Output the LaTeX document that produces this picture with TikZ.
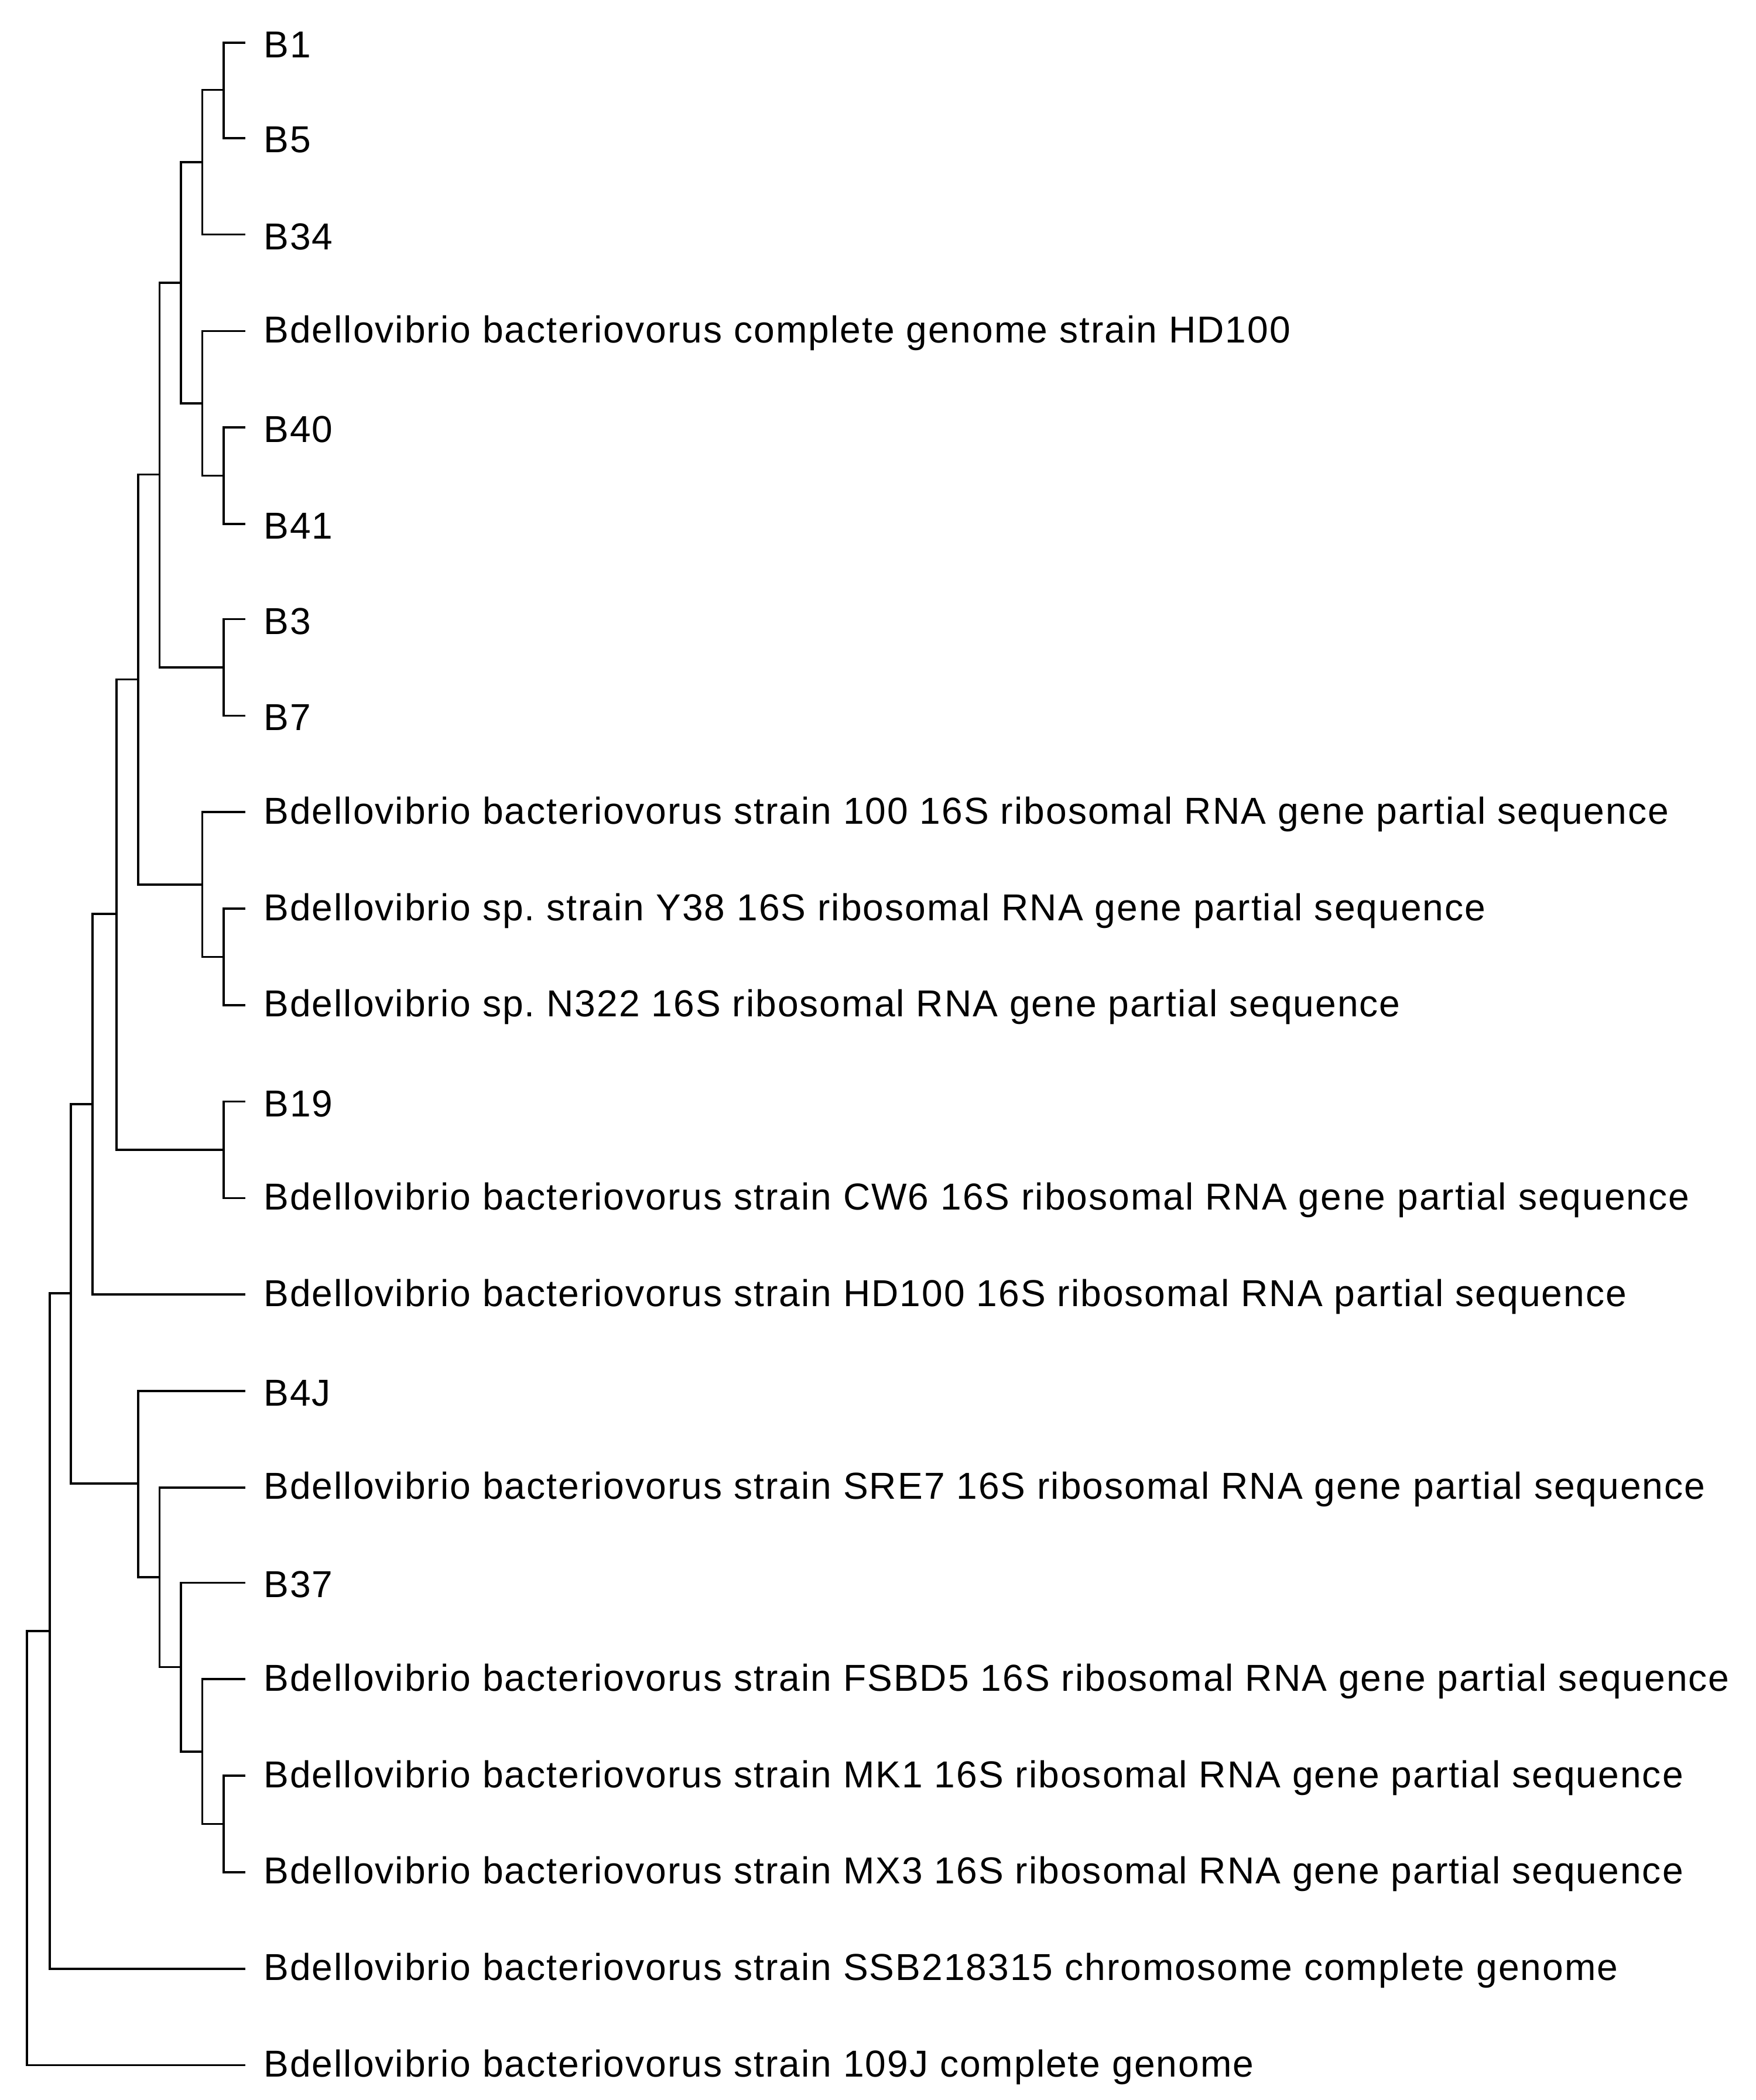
\documentclass[tikz,border=0pt]{standalone}
\usepackage{fontspec}
\setmainfont{Liberation Sans}[LetterSpace=3.2]
\frenchspacing
\begin{document}
\begin{tikzpicture}[x=1pt,y=-1pt,line width=1.6pt,
 leaf/.style={anchor=west,inner sep=0pt,yshift=-1.5pt,font=\fontsize{28}{32}\selectfont},
 br/.style={draw=black}]
\useasboundingbox (0,0) rectangle (1310,1567);
% leaves
\foreach \n/\y/\t in {l1/32/B1,l2/103/B5,l3/175/B34,l4/247/Bdellovibrio bacteriovorus complete genome strain HD100,
 l5/319/B40,l6/391/B41,l7/462/B3,l8/534/B7,
 l9/606/Bdellovibrio bacteriovorus strain 100 16S ribosomal RNA gene partial sequence,
 l10/678/Bdellovibrio sp. strain Y38 16S ribosomal RNA gene partial sequence,
 l11/750/Bdellovibrio sp. N322 16S ribosomal RNA gene partial sequence,
 l12/822/B19,
 l13/894/Bdellovibrio bacteriovorus strain CW6 16S ribosomal RNA gene partial sequence,
 l14/966/Bdellovibrio bacteriovorus strain HD100 16S ribosomal RNA partial sequence,
 l15/1038/B4J,
 l16/1110/Bdellovibrio bacteriovorus strain SRE7 16S ribosomal RNA gene partial sequence,
 l17/1181/B37,
 l18/1253/Bdellovibrio bacteriovorus strain FSBD5 16S ribosomal RNA gene partial sequence,
 l19/1325/Bdellovibrio bacteriovorus strain MK1 16S ribosomal RNA gene partial sequence,
 l20/1397/Bdellovibrio bacteriovorus strain MX3 16S ribosomal RNA gene partial sequence,
 l21/1469/Bdellovibrio bacteriovorus strain SSB218315 chromosome complete genome,
 l22/1541/Bdellovibrio bacteriovorus strain 109J complete genome}
 {\coordinate (\n) at (183,\y); \node[leaf] (t\n) at (196,\y) {\t};}
% internal nodes
\coordinate (a) at (167,67);
\coordinate (b) at (151,121);
\coordinate (c) at (167,355);
\coordinate (d) at (151,301);
\coordinate (e) at (135,211);
\coordinate (f) at (167,498);
\coordinate (g) at (119,354);
\coordinate (h) at (167,714);
\coordinate (i) at (151,660);
\coordinate (j) at (103,507);
\coordinate (k) at (167,858);
\coordinate (m) at (87,682);
\coordinate (n) at (69,824);
\coordinate (o) at (167,1361);
\coordinate (p) at (151,1307);
\coordinate (q) at (135,1244);
\coordinate (r) at (119,1177);
\coordinate (s) at (103,1107);
\coordinate (u) at (53,965);
\coordinate (v) at (37,1217);
\coordinate (w) at (20,1379);
\foreach \p/\c in {a/l1,a/l2,b/a,b/l3,c/l5,c/l6,d/l4,d/c,e/b,e/d,f/l7,f/l8,g/e,g/f,
 h/l10,h/l11,i/l9,i/h,j/g,j/i,k/l12,k/l13,m/j,m/k,n/m,n/l14,
 o/l19,o/l20,p/l18,p/o,q/l17,q/p,r/l16,r/q,s/l15,s/r,u/n,u/s,v/u,v/l21,w/v,w/l22}
 \draw[br] (\p) |- (\c);
\end{tikzpicture}
\end{document}
